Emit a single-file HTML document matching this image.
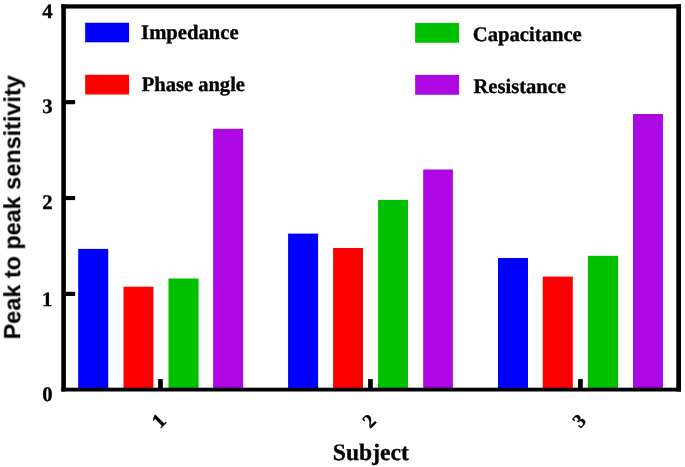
<!DOCTYPE html>
<html>
<head>
<meta charset="utf-8">
<title>Peak to peak sensitivity</title>
<style>
html,body{margin:0;padding:0;background:#fff;}
body{width:685px;height:467px;overflow:hidden;font-family:"Liberation Sans",sans-serif;}
svg{display:block;}
text{font-weight:bold;fill:#000;stroke:#000;stroke-linejoin:round;font-kerning:none;text-rendering:geometricPrecision;font-variant-ligatures:none;white-space:pre;}
.sf{font-family:"Liberation Serif",serif;stroke-width:0.35px;}
.ss{font-family:"Liberation Sans",sans-serif;stroke-width:0.1px;}
</style>
</head>
<body>
<svg width="685" height="467" viewBox="0 0 685 467">
<rect x="0" y="0" width="685" height="467" fill="#ffffff"/>
<g>
<rect x="78.20" y="248.90" width="30.00" height="140.60" fill="#0000ff"/>
<rect x="123.50" y="286.70" width="29.90" height="102.80" fill="#ff0000"/>
<rect x="168.50" y="278.50" width="30.10" height="111.00" fill="#00c000"/>
<rect x="213.10" y="128.80" width="30.00" height="260.70" fill="#ad07e3"/>
<rect x="288.10" y="233.60" width="30.00" height="155.90" fill="#0000ff"/>
<rect x="333.10" y="248.00" width="29.90" height="141.50" fill="#ff0000"/>
<rect x="378.00" y="199.90" width="30.00" height="189.60" fill="#00c000"/>
<rect x="423.20" y="169.50" width="29.70" height="220.00" fill="#ad07e3"/>
<rect x="498.00" y="258.00" width="30.00" height="131.50" fill="#0000ff"/>
<rect x="542.70" y="276.60" width="30.10" height="112.90" fill="#ff0000"/>
<rect x="587.90" y="255.80" width="30.20" height="133.70" fill="#00c000"/>
<rect x="633.00" y="114.00" width="29.95" height="275.50" fill="#ad07e3"/>
</g>
<g fill="#000">
<rect x="61.3" y="4.3" width="4.6" height="387.2"/>
<rect x="676.3" y="4.3" width="4.7" height="387.2"/>
<rect x="61.3" y="4.3" width="619.7" height="4.25"/>
<rect x="61.3" y="387.7" width="619.7" height="3.8"/>
<rect x="63" y="100.1" width="12.1" height="4.15"/>
<rect x="63" y="195.95" width="12.1" height="4.15"/>
<rect x="63" y="291.8" width="12.1" height="4.15"/>
<rect x="158.1" y="379.1" width="4.7" height="10"/>
<rect x="368.1" y="379.1" width="4.7" height="10"/>
<rect x="578.1" y="379.1" width="4.7" height="10"/>
</g>
<rect x="85.15" y="22.75" width="43.95" height="19.55" fill="#0000ff"/>
<rect x="85.15" y="74.8" width="43.95" height="19.7" fill="#ff0000"/>
<rect x="415.15" y="22.9" width="43.95" height="19.85" fill="#00c000"/>
<rect x="415.15" y="74.9" width="43.95" height="19.85" fill="#ad07e3"/>
<g opacity="0.999">
<text class="sf" font-size="20.675" transform="matrix(1 0 0 1 141.103 39)" x="0" y="0">Impedance</text>
<text class="sf" font-size="20.562" transform="matrix(1 0 0 1 141.649 90.9)" x="0" y="0">Phase angle</text>
<text class="sf" font-size="20.665" transform="matrix(1 0 0 1 472.791 41.3)" x="0" y="0">Capacitance</text>
<text class="sf" font-size="20.579" transform="matrix(1 0 0 1 473.448 93)" x="0" y="0">Resistance</text>
<text class="sf" font-size="23.605" transform="matrix(1 0 0 1 332.844 459.8)" x="0" y="0">Subject</text>
<text class="ss" font-size="23.415" transform="matrix(0 -1 1 0 20.25 339.366)" x="0" y="0">Peak to peak sensitivity</text>
<text class="sf" font-size="20.65" transform="matrix(1 0 0 1 42.325 17.55)" x="0" y="0">4</text>
<text class="sf" font-size="20.65" transform="matrix(1 0 0 1 42.325 113.4)" x="0" y="0">3</text>
<text class="sf" font-size="20.65" transform="matrix(1 0 0 1 42.325 209.25)" x="0" y="0">2</text>
<text class="sf" font-size="20.65" transform="matrix(1 0 0 1 42.025 305.55)" x="0" y="0">1</text>
<text class="sf" font-size="20.65" transform="matrix(1 0 0 1 42.325 400.9)" x="0" y="0">0</text>
<text class="sf" font-size="20.65" transform="matrix(0.707 -0.707 0.707 0.707 160.068 429.146)" x="0" y="0">1</text>
<text class="sf" font-size="19.617" transform="matrix(0.707 -0.707 0.707 0.707 370.333 428.971)" x="0" y="0">2</text>
<text class="sf" font-size="19.411" transform="matrix(0.707 -0.707 0.707 0.707 580.194 428.666)" x="0" y="0">3</text>
</g>
</svg>
</body>
</html>
